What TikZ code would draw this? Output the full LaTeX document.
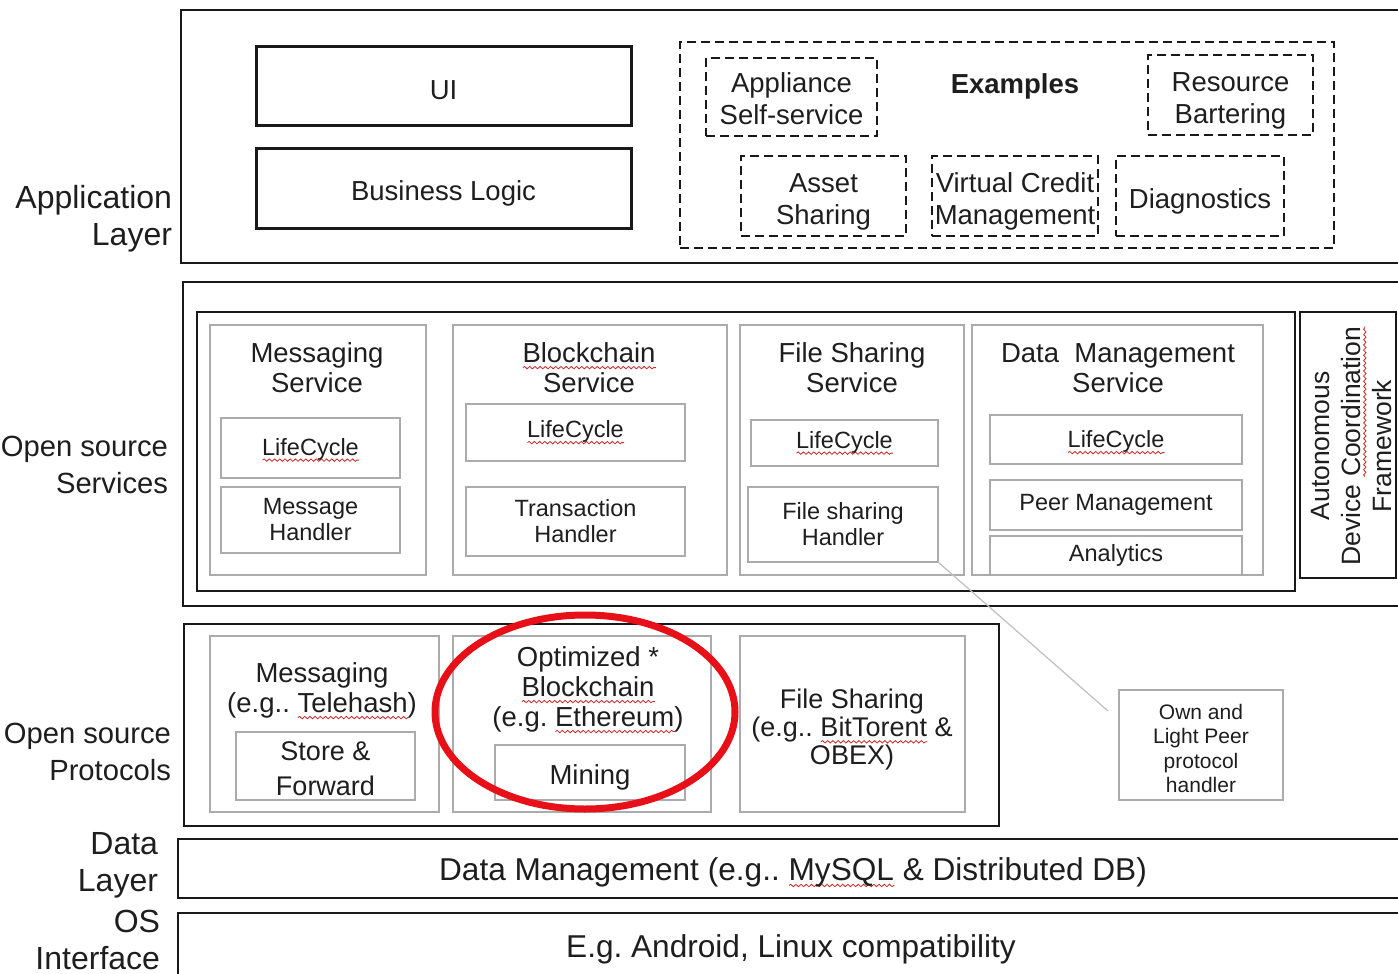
\documentclass[tikz,border=0pt]{standalone}
\usepackage{fontspec}
\setmainfont{Liberation Sans}
\frenchspacing
\usetikzlibrary{shapes.geometric,decorations.pathmorphing}
\definecolor{ink}{RGB}{30,30,30}
\definecolor{hlred}{RGB}{232,16,24}
\definecolor{waveline}{RGB}{205,40,40}
% red wavy underline for flagged words
\newsavebox\splbox
\newcommand\spl[1]{\sbox\splbox{#1}\leavevmode\rlap{\raisebox{-2.4pt}{\tikz[x=1pt,y=1pt,baseline=0pt]
  \draw[waveline, line width=0.4pt, decorate, decoration={snake, amplitude=0.6pt, segment length=2.6pt}]
  (0,0) -- (\the\wd\splbox,0);}}\usebox\splbox}
% box given by its corners: [style]{name}{x1}{y1}{x2}{y2}{text}
% the text goes in a node of its own, (name t), which 'tshift' can move
\newcommand\bx[7][]{%
  \node[#1, minimum width={(#5-#3)*0.5pt}, minimum height={(#6-#4)*0.5pt}]
    (#2) at ({(#3+#5)/2},{(#4+#6)/2}) {};
  \node[#1, draw=none, minimum width=0pt, minimum height=0pt, shifttext] (#2t) at (#2.center) {#7};}
\tikzset{
  shifttext/.style={},
  tshift/.style={shifttext/.style={#1}},
  base/.style={inner sep=0pt, outer sep=0pt, text=ink, align=center},
  lay/.style={base, draw=black!90, line width=1.25pt},
  appbox/.style={base, draw=black!90, line width=1.5pt, font=\fontsize{13.75}{16}\selectfont},
  dbox/.style={base, draw=black!90, line width=1.2pt, dash pattern=on 4.5pt off 2.5pt},
  dsub/.style={dbox, font=\fontsize{13.75}{16}\selectfont},
  svc/.style={base, draw=black!33, line width=1pt, font=\fontsize{11.75}{13}\selectfont},
  ttl/.style={base, font=\fontsize{13.75}{15}\selectfont},
  side/.style={base, anchor=east, align=right, font=\fontsize{16}{18.5}\selectfont},
  big/.style={base, font=\fontsize{15.8}{18}\selectfont},
  link/.style={draw=black!25, line width=0.6pt},
  hilite/.style={ellipse, draw=hlred, line width=3.5pt, inner sep=0pt},
}
\begin{document}
\begin{tikzpicture}[x=0.5pt, y=-0.5pt]
\clip (0,0) rectangle (1398,974);
\fill[white] (0,0) rectangle (1398,974);

% ---------- layer captions ----------
\node[side] (capapp)  at (172,219) {Application\\Layer};
\node[side, font=\fontsize{14.6}{18.5}\selectfont] (capsvc)  at (168,465) {Open source\\Services};
\node[side, font=\fontsize{14.6}{18.5}\selectfont] (capprot) at (171,752) {Open source\\Protocols};
\node[side] (capdata) at (158,865) {Data\\Layer};
\node[side] (capos)   at (160,940) {OS\\Interface};

% ---------- application layer ----------
\bx[lay]{applayer}{181}{10}{1420}{263}{}
\bx[appbox, tshift={yshift=-2pt}]{ui}{256}{47}{631}{126}{UI}
\bx[appbox, tshift={yshift=-2.5pt}]{bl}{256}{149}{631}{228}{Business Logic}
\bx[dbox]{examples}{680}{42}{1334}{248}{}
\node[base, font=\bfseries\fontsize{13.75}{16}\selectfont] (extitle) at (1015,86) {Examples};
\bx[dsub, tshift={yshift=-1pt}]{appl}{706}{58}{877}{136}{Appliance\\Self-service}
\bx[dsub, tshift={yshift=-3pt}]{res}{1148}{55}{1313}{135}{Resource\\Bartering}
\bx[dsub, tshift={yshift=-3pt}]{asset}{741}{156}{906}{236}{Asset\\Sharing}
\bx[dsub, tshift={yshift=-2.5pt}]{vcm}{932}{156}{1098}{236}{Virtual Credit\\Management}
\bx[dsub, tshift={yshift=-2.5pt}]{diag}{1116}{156}{1284}{236}{Diagnostics}

% ---------- open source services ----------
\bx[lay]{svclayer}{183}{282}{1420}{606}{}
\bx[lay]{svcinner}{197}{312}{1295}{591}{}
\bx[lay]{adcf}{1300}{312}{1396}{578}{}
\node[ttl, rotate=90, font=\fontsize{13.25}{15.5}\selectfont] (adcft) at (1351,446)
  {Autonomous\\Device \spl{Coordination}\\Framework};

\bx[svc]{ms}{210}{325}{426}{575}{}
\node[ttl] (mst) at (317,368) {Messaging\\Service};
\bx[svc, tshift={yshift=-1pt}]{mslc}{221}{418}{400}{478}{\spl{LifeCycle}}
\bx[svc]{msh}{221}{487}{400}{553}{Message\\Handler}

\bx[svc]{bs}{453}{325}{727}{575}{}
\node[ttl] (bst) at (589,368) {\spl{Blockchain}\\Service};
\bx[svc]{bslc}{466}{404}{685}{461}{\spl{LifeCycle}}
\bx[svc]{bsh}{466}{487}{685}{556}{Transaction\\Handler}

\bx[svc]{fs}{740}{325}{964}{575}{}
\node[ttl] (fst) at (852,368) {File Sharing\\Service};
\bx[svc]{fslc}{751}{420}{938}{466}{\spl{LifeCycle}}
\bx[svc]{fsh}{748}{487}{938}{562}{File sharing\\Handler}

\bx[svc]{dm}{972}{325}{1263}{575}{}
\node[ttl] (dmt) at (1118,368) {Data\ \ Management\\Service};
\bx[svc, tshift={yshift=-1.5pt}]{dmlc}{990}{415}{1242}{464}{\spl{LifeCycle}}
\bx[svc]{dmpm}{990}{480}{1242}{530}{Peer Management}
\bx[svc]{dman}{990}{536}{1242}{575}{Analytics}

% ---------- open source protocols ----------
\bx[lay]{prot}{184}{624}{999}{826}{}
\bx[svc]{pm}{210}{636}{439}{812}{}
\node[ttl] (pmt) at (322,691) {Messaging\\(e.g.. \spl{Telehash})};
\bx[svc, font=\fontsize{13.5}{17.5}\selectfont, tshift={yshift=-1.5pt}]{sf}{236}{732}{415}{800}{Store \&\\Forward}

\bx[svc]{pb}{453}{636}{711}{812}{}
\node[ttl] (pbt) at (588,690) {Optimized *\\\spl{Blockchain}\\(e.g. \spl{Ethereum})};
\bx[svc, font=\fontsize{13.75}{16}\selectfont, tshift={yshift=-2.5pt}]{mine}{495}{745}{685}{800}{Mining}

\bx[svc]{pf}{740}{636}{965}{812}{}
\node[ttl, font=\fontsize{13.5}{14}\selectfont] (pft) at (852,730) {File Sharing\\(e.g.. \spl{BitTorent} \&\\OBEX)};

\bx[svc, font=\fontsize{10.5}{12.15}\selectfont, tshift={yshift=-1.75pt}]{own}{1119}{690}{1283}{800}{Own and\\Light Peer\\protocol\\handler}
\coordinate (ownend) at (1108,711);
\draw[link] (fsh.south east) -- (ownend);

% ---------- data layer and OS interface ----------
\bx[lay, big, tshift={xshift=-3pt, yshift=-2pt}]{data}{178}{839}{1420}{898}{Data Management (e.g.. \spl{MySQL} \& Distributed DB)}
\bx[lay]{os}{178}{913}{1420}{1000}{}
\node[big] (ost) at (791,949) {E.g. Android, Linux compatibility};

% ---------- highlight ----------
\node[hilite, minimum width=150pt, minimum height=97pt] (hl) at (585,712) {};
\end{tikzpicture}
\end{document}
